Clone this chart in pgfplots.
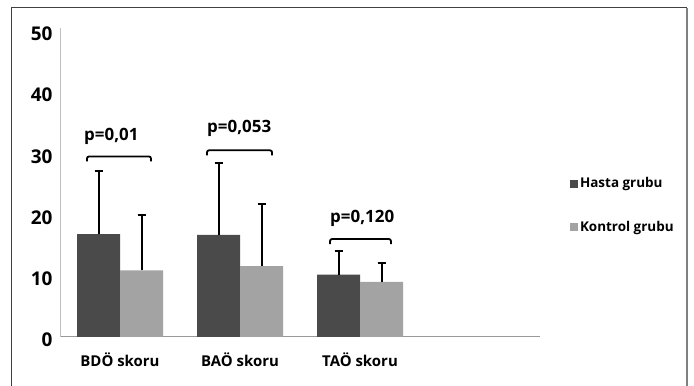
\documentclass[border=0pt]{standalone}
\usepackage{pgfplots}
\pgfplotsset{compat=1.18}
\usepackage{fontspec}
\setmainfont{Open Sans}
\definecolor{hasta}{HTML}{4A4A4A}
\definecolor{kontrol}{HTML}{A3A3A3}
\definecolor{frameA}{HTML}{404040}
\definecolor{frameB}{HTML}{808080}
\begin{document}
\begin{tikzpicture}
\useasboundingbox (0,0) rectangle (694bp,386bp);
\draw[frameA, line width=1bp] (11bp,0) -- (11bp,378bp) -- (687bp,378bp);
\draw[frameB, line width=1.2bp] (687bp,378bp) -- (687bp,0);
\begin{axis}[
  at={(60bp,49bp)}, anchor=south west,
  scale only axis, width=480bp, height=306bp,
  xmin=-0.5, xmax=3.5, ymin=0, ymax=50,
  axis lines=left,
  x axis line style={-, color=black!40, line width=1bp},
  y axis line style={-, color=black!25, line width=1bp, shorten >=-3bp},
  ytick={0,10,...,50}, xtick={0,1,2},
  xticklabels={BDÖ skoru, BAÖ skoru, TAÖ skoru},
  major tick length=0pt,
  ybar=0pt, bar width=43bp,
  /pgf/number format/assume math mode=true,
  yticklabel style={font=\fontsize{19}{19}\selectfont\bfseries, xshift=-4bp, yshift=-3bp},
  xticklabel style={font=\fontsize{15}{15}\selectfont\bfseries, yshift=-12bp},
  clip=false,
  legend style={draw=none, fill=none, at={(1.056,0.43)}, anchor=west,
    font=\fontsize{13.5}{13.5}\selectfont\bfseries, row sep=28bp,
    legend cell align=left},
]
\addplot[fill=hasta, draw=none,
  legend image code/.code={\fill[hasta] (0bp,-4bp) rectangle (8bp,4bp);},
  error bars/.cd, y dir=plus, y explicit,
  error bar style={black, line width=2bp},
  error mark options={black, rotate=90, mark size=4bp, line width=2bp}]
  coordinates {(0,16.8) +- (0,10.4) (1,16.7) +- (0,11.8) (2,10.2) +- (0,3.8)};
\addlegendentry{Hasta grubu}
\addplot[fill=kontrol, draw=none,
  legend image code/.code={\fill[kontrol] (0bp,-4bp) rectangle (8bp,4bp);},
  error bars/.cd, y dir=plus, y explicit,
  error bar style={black, line width=2bp},
  error mark options={black, rotate=90, mark size=4bp, line width=2bp}]
  coordinates {(0,10.9) +- (0,9.0) (1,11.6) +- (0,10.1) (2,9.0) +- (0,3.1)};
\addlegendentry{Kontrol grubu}
% significance brackets
\draw[black, line width=1.8bp, rounded corners=2bp]
  ([yshift=-5bp]axis cs:-0.275,29.5) -- (axis cs:-0.275,29.5) -- (axis cs:0.258,29.5) -- ([yshift=-5bp]axis cs:0.258,29.5);
\draw[black, line width=1.8bp, rounded corners=2bp]
  ([yshift=-5bp]axis cs:0.725,30.5) -- (axis cs:0.725,30.5) -- (axis cs:1.267,30.5) -- ([yshift=-5bp]axis cs:1.267,30.5);
\draw[black, line width=1.8bp, rounded corners=2bp]
  ([yshift=-5bp]axis cs:1.75,16.0) -- (axis cs:1.75,16.0) -- (axis cs:2.258,16.0) -- ([yshift=-5bp]axis cs:2.258,16.0);
\node[anchor=west, inner sep=0pt, font=\fontsize{17}{17}\selectfont\bfseries] at ([yshift=20bp]axis cs:-0.30,29.5) {p=0,01};
\node[anchor=west, inner sep=0pt, font=\fontsize{17}{17}\selectfont\bfseries] at ([yshift=22bp]axis cs:0.725,30.5) {p=0,053};
\node[anchor=west, inner sep=0pt, font=\fontsize{17}{17}\selectfont\bfseries] at ([yshift=21bp]axis cs:1.75,16.0) {p=0,120};
\end{axis}
\end{tikzpicture}
\end{document}
